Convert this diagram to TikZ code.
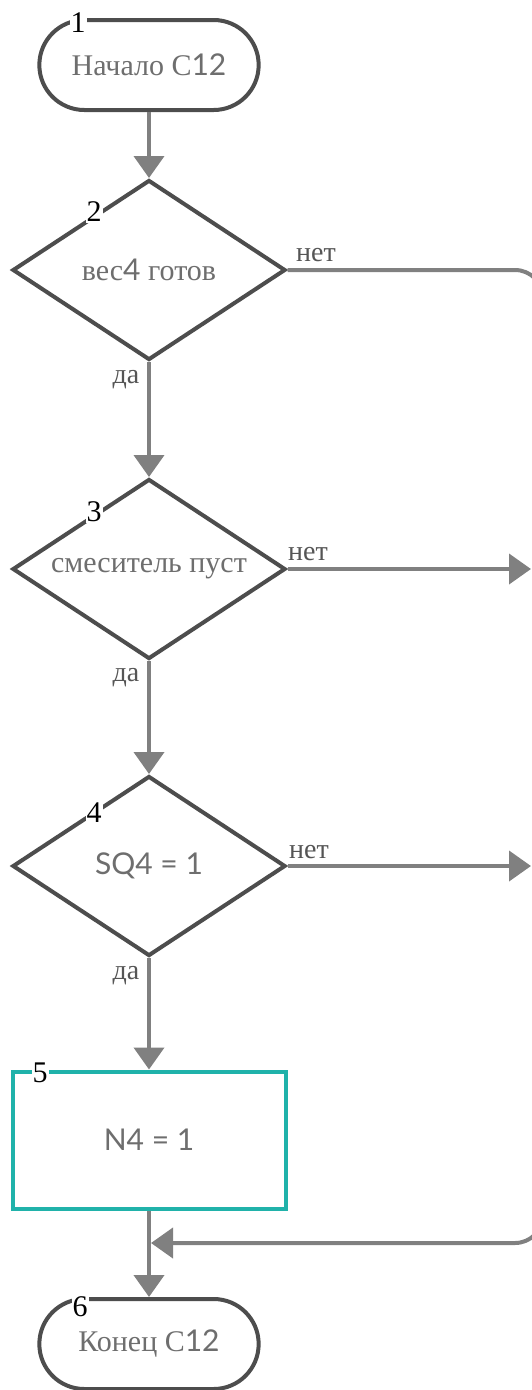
\documentclass[tikz,border=0pt]{standalone}
\usepackage{fontspec}
\setmainfont{Liberation Serif}
\newfontfamily\latofont{Lato}
\usepackage{xcolor}
\usepackage{tikz}
\usetikzlibrary{arrows.meta}
\usetikzlibrary{shapes.misc}
\usetikzlibrary{shapes.geometric}
\definecolor{bordergrey}{HTML}{4D4D4D}
\definecolor{flowgrey}{HTML}{808080}
\definecolor{textgrey}{HTML}{6E6E6E}
\definecolor{labelgrey}{HTML}{555555}
\definecolor{procteal}{HTML}{20B2AA}
\tikzstyle{termnode}=[draw=bordergrey, line width=4pt, shape=rounded rectangle, fill=white, minimum width=226pt, minimum height=90pt, text=textgrey, font=\fontsize{30}{36}\selectfont]
\tikzstyle{decnode}=[draw=bordergrey, line width=4pt, shape=diamond, aspect=1.5, fill=white, minimum width=273pt, minimum height=180pt, inner sep=0pt, text=textgrey, font=\fontsize{30}{36}\selectfont]
\tikzstyle{procnode}=[draw=procteal, line width=4pt, shape=rectangle, fill=white, minimum width=273pt, minimum height=137pt, text=textgrey, font=\latofont\fontsize{30}{36}\selectfont]
\tikzstyle{numnode}=[fill=white, inner sep=1pt, text=black, font=\fontsize{30}{36}\selectfont]
\tikzstyle{lblnode}=[inner sep=0pt, text=labelgrey, font=\fontsize{28}{34}\selectfont]
\tikzstyle{flow}=[-{Triangle[length=22pt, width=30pt]}, line width=4pt, color=flowgrey]

\begin{document}
\begin{tikzpicture}[x=1pt, y=-1pt]
\useasboundingbox (0,0) rectangle (531,1390);

% the return line runs just past the right edge
\coordinate (rtop) at (543,270);
\coordinate (rbot) at (543,1243);
\coordinate (merge) at (151,1243);
\coordinate (out3) at (531,569);
\coordinate (out4) at (531,866);

\node [termnode] (start) at (149,65) {Начало С{\latofont 12}};
\node [decnode] (ves) at (149,270) {вес{\latofont 4} готов};
\node [decnode] (mix) at (149,569) {смеситель пуст};
\node [decnode, font=\latofont\fontsize{30}{36}\selectfont] (sq) at (149,866) {SQ4 = 1};
\node [procnode] (set) at (149,1140) {N4 = 1};
\node [termnode] (stop) at (149,1344) {Конец С{\latofont 12}};

\node [numnode] (n1) at (78,23) {1};
\node [numnode] (n2) at (94,212) {2};
\node [numnode] (n3) at (94,512) {3};
\node [numnode] (n4) at (94,813) {4};
\node [numnode] (n5) at (40,1073) {5};
\node [numnode] (n6) at (80,1307) {6};

\node [lblnode] (no2) at (316,255) {нет};
\node [lblnode] (no3) at (308,554) {нет};
\node [lblnode] (no4) at (309,852) {нет};
\node [lblnode] (yes2) at (126,380) {да};
\node [lblnode] (yes3) at (126,678) {да};
\node [lblnode] (yes4) at (126,976) {да};

\draw[flow] (start.south) -- (ves.north);
\draw[flow] (ves.south) -- (mix.north);
\draw[flow] (mix.south) -- (sq.north);
\draw[flow] (sq.south) -- (set.north);
\draw[flow] (set.south) -- (stop.north);
\draw[flow] (mix.east) -- (out3);
\draw[flow] (sq.east) -- (out4);
\draw[flow, rounded corners=28pt] (ves.east) -- (rtop) -- (rbot) -- (merge);
\end{tikzpicture}
\end{document}
